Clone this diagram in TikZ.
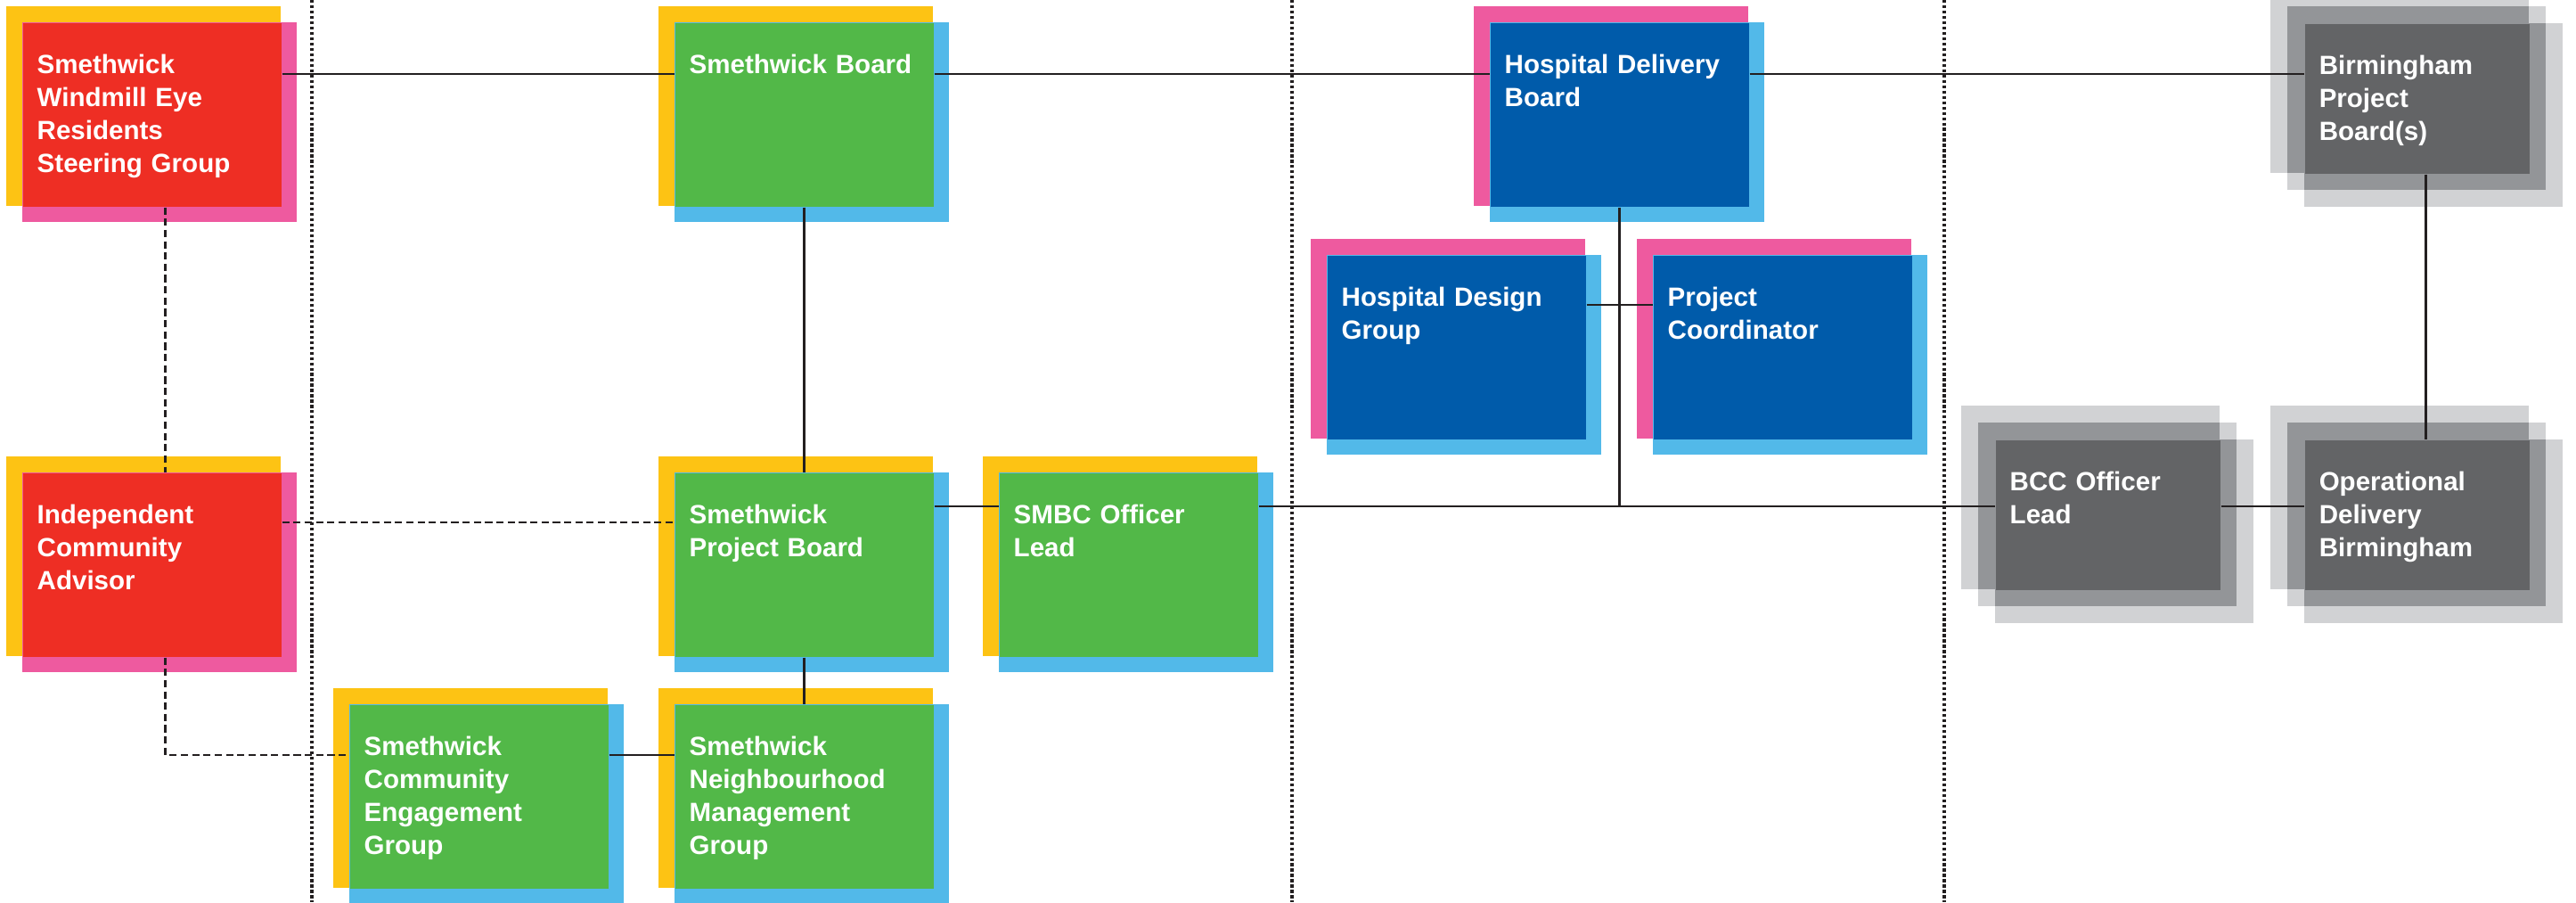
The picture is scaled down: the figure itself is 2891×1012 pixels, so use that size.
\documentclass[tikz,border=0pt]{standalone}
\usepackage{fontspec}
\setmainfont{Liberation Sans}
\usepackage{tikz}
\usetikzlibrary{positioning,calc}

\definecolor{boxyellow}{HTML}{FDC314}
\definecolor{boxred}{HTML}{EE2E24}
\definecolor{boxpink}{HTML}{EE5A9F}
\definecolor{boxgreen}{HTML}{52B848}
\definecolor{boxsky}{HTML}{52B9E9}
\definecolor{boxnavy}{HTML}{005BAA}
\definecolor{greylight}{HTML}{D1D2D4}
\definecolor{greymid}{HTML}{939598}
\definecolor{greydark}{HTML}{636466}
\definecolor{linkc}{HTML}{231F20}

\begin{document}
\begin{tikzpicture}[
    x=0.01cm,
    y=-0.01cm,
    front/.style={fill=#1, anchor=north west, inner xsep=0.16cm, inner ysep=0pt, text width=2.58cm, text height=0.57cm, text depth=1.49cm, align=left, text=white, font=\bfseries\fontsize{8.4}{10.5}\selectfont},
    greyfront/.style={front=greydark, text width=2.20cm, text depth=1.11cm},
    link/.style={draw=linkc, line width=0.8pt},
    dashlink/.style={link, dash pattern=on 2.3pt off 1.3pt},
    divider/.style={draw=linkc, line width=0.9pt, dash pattern=on 0.9pt off 0.8pt}
  ]
    \clip (0,0) rectangle (2891,1012);

    % -- column dividers --
    \draw[divider] (350,0) -- (350,1012);
    \draw[divider] (1450,0) -- (1450,1012);
    \draw[divider] (2182,0) -- (2182,1012);

    % -- back squares, red boxes --
    \fill[boxyellow] (7,7) rectangle ++(308,224);
    \fill[boxpink] (25,25) rectangle ++(308,224);
    \fill[boxyellow] (7,512) rectangle ++(308,224);
    \fill[boxpink] (25,530) rectangle ++(308,224);

    % -- back squares, green boxes --
    \fill[boxyellow] (739,7) rectangle ++(308,224);
    \fill[boxsky] (757,25) rectangle ++(308,224);
    \fill[boxyellow] (739,512) rectangle ++(308,224);
    \fill[boxsky] (757,530) rectangle ++(308,224);
    \fill[boxyellow] (1103,512) rectangle ++(308,224);
    \fill[boxsky] (1121,530) rectangle ++(308,224);
    \fill[boxyellow] (374,772) rectangle ++(308,224);
    \fill[boxsky] (392,790) rectangle ++(308,224);
    \fill[boxyellow] (739,772) rectangle ++(308,224);
    \fill[boxsky] (757,790) rectangle ++(308,224);

    % -- back squares, blue boxes --
    \fill[boxpink] (1654,7) rectangle ++(308,224);
    \fill[boxsky] (1672,25) rectangle ++(308,224);
    \fill[boxpink] (1471,268) rectangle ++(308,224);
    \fill[boxsky] (1489,286) rectangle ++(308,224);
    \fill[boxpink] (1837,268) rectangle ++(308,224);
    \fill[boxsky] (1855,286) rectangle ++(308,224);

    % -- back squares, grey boxes --
    \fill[greylight] (2548,-12) rectangle ++(290,206);
    \fill[greylight] (2567,7) rectangle ++(290,206);
    \fill[greylight] (2586,26) rectangle ++(290,206);
    \fill[greymid] (2567,7) rectangle (2838,194);
    \fill[greymid] (2586,26) rectangle (2857,213);

    \fill[greylight] (2201,455) rectangle ++(290,206);
    \fill[greylight] (2220,474) rectangle ++(290,206);
    \fill[greylight] (2239,493) rectangle ++(290,206);
    \fill[greymid] (2220,474) rectangle (2491,661);
    \fill[greymid] (2239,493) rectangle (2510,680);

    \fill[greylight] (2548,455) rectangle ++(290,206);
    \fill[greylight] (2567,474) rectangle ++(290,206);
    \fill[greylight] (2586,493) rectangle ++(290,206);
    \fill[greymid] (2567,474) rectangle (2838,661);
    \fill[greymid] (2586,493) rectangle (2857,680);

    % -- boxes --
    \node[front=boxred]   (sweg)   at (25,25)    {Smethwick\\Windmill Eye\\Residents\\Steering Group};
    \node[front=boxred]   (ica)    at (25,530)   {Independent\\Community\\Advisor};
    \node[front=boxgreen] (sboard) at (757,25)   {Smethwick Board};
    \node[front=boxgreen] (spb)    at (757,530)  {Smethwick\\Project Board};
    \node[front=boxgreen] (smbc)   at (1121,530) {SMBC Officer\\Lead};
    \node[front=boxgreen] (sceg)   at (392,790)  {Smethwick\\Community\\Engagement\\Group};
    \node[front=boxgreen] (snmg)   at (757,790)  {Smethwick\\Neighbourhood\\Management\\Group};
    \node[front=boxnavy]  (hdb)    at (1672,25)  {Hospital Delivery\\Board};
    \node[front=boxnavy]  (hdg)    at (1489,286) {Hospital Design\\Group};
    \node[front=boxnavy]  (pc)     at (1855,286) {Project\\Coordinator};
    \node[greyfront]      (bpb)    at (2586,26)  {Birmingham\\Project\\Board(s)};
    \node[greyfront]      (bccl)   at (2239,493) {BCC Officer\\Lead};
    \node[greyfront]      (odb)    at (2586,493) {Operational\\Delivery\\Birmingham};

    % -- rows the long lines run on --
    \coordinate (toprow) at ([yshift=-0.58cm]sweg.north east);
    \coordinate (midrow) at ([yshift=-0.38cm]smbc.north east);

    % -- top row --
    \draw[link] (toprow) -- (toprow -| sboard.west);
    \draw[link] (toprow -| sboard.east) -- (toprow -| hdb.west);
    \draw[link] (toprow -| hdb.east) -- (toprow -| bpb.west);

    % -- Smethwick column --
    \draw[link] (sboard.south) -- (spb.north);
    \draw[link] (spb.south) -- (snmg.north);
    \draw[link] ([yshift=-0.57cm]sceg.north east) -- ([yshift=-0.57cm]snmg.north west);

    % -- officer row --
    \draw[link] (midrow -| spb.east) -- (midrow -| smbc.west);
    \draw[link] (midrow) -- (midrow -| bccl.west);
    \draw[link] (midrow -| bccl.east) -- (midrow -| odb.west);

    % -- hospital --
    \draw[link] (hdb.south) -- (midrow -| hdb.south);
    \draw[link] ([yshift=-0.56cm]hdg.north east) -- ([yshift=-0.56cm]pc.north west);

    % -- Birmingham --
    \draw[link] ([xshift=0.1cm]bpb.south) -- ([xshift=0.1cm]odb.north);

    % -- community links --
    \draw[dashlink] ([xshift=0.15cm]sweg.south) -- ([xshift=0.15cm]ica.north);
    \draw[dashlink] ([yshift=-0.56cm]ica.north east) -- ([yshift=-0.56cm]spb.north west);
    \draw[dashlink] ([xshift=0.15cm]ica.south) |- ([yshift=-0.57cm]sceg.north west);
  \end{tikzpicture}
\end{document}
